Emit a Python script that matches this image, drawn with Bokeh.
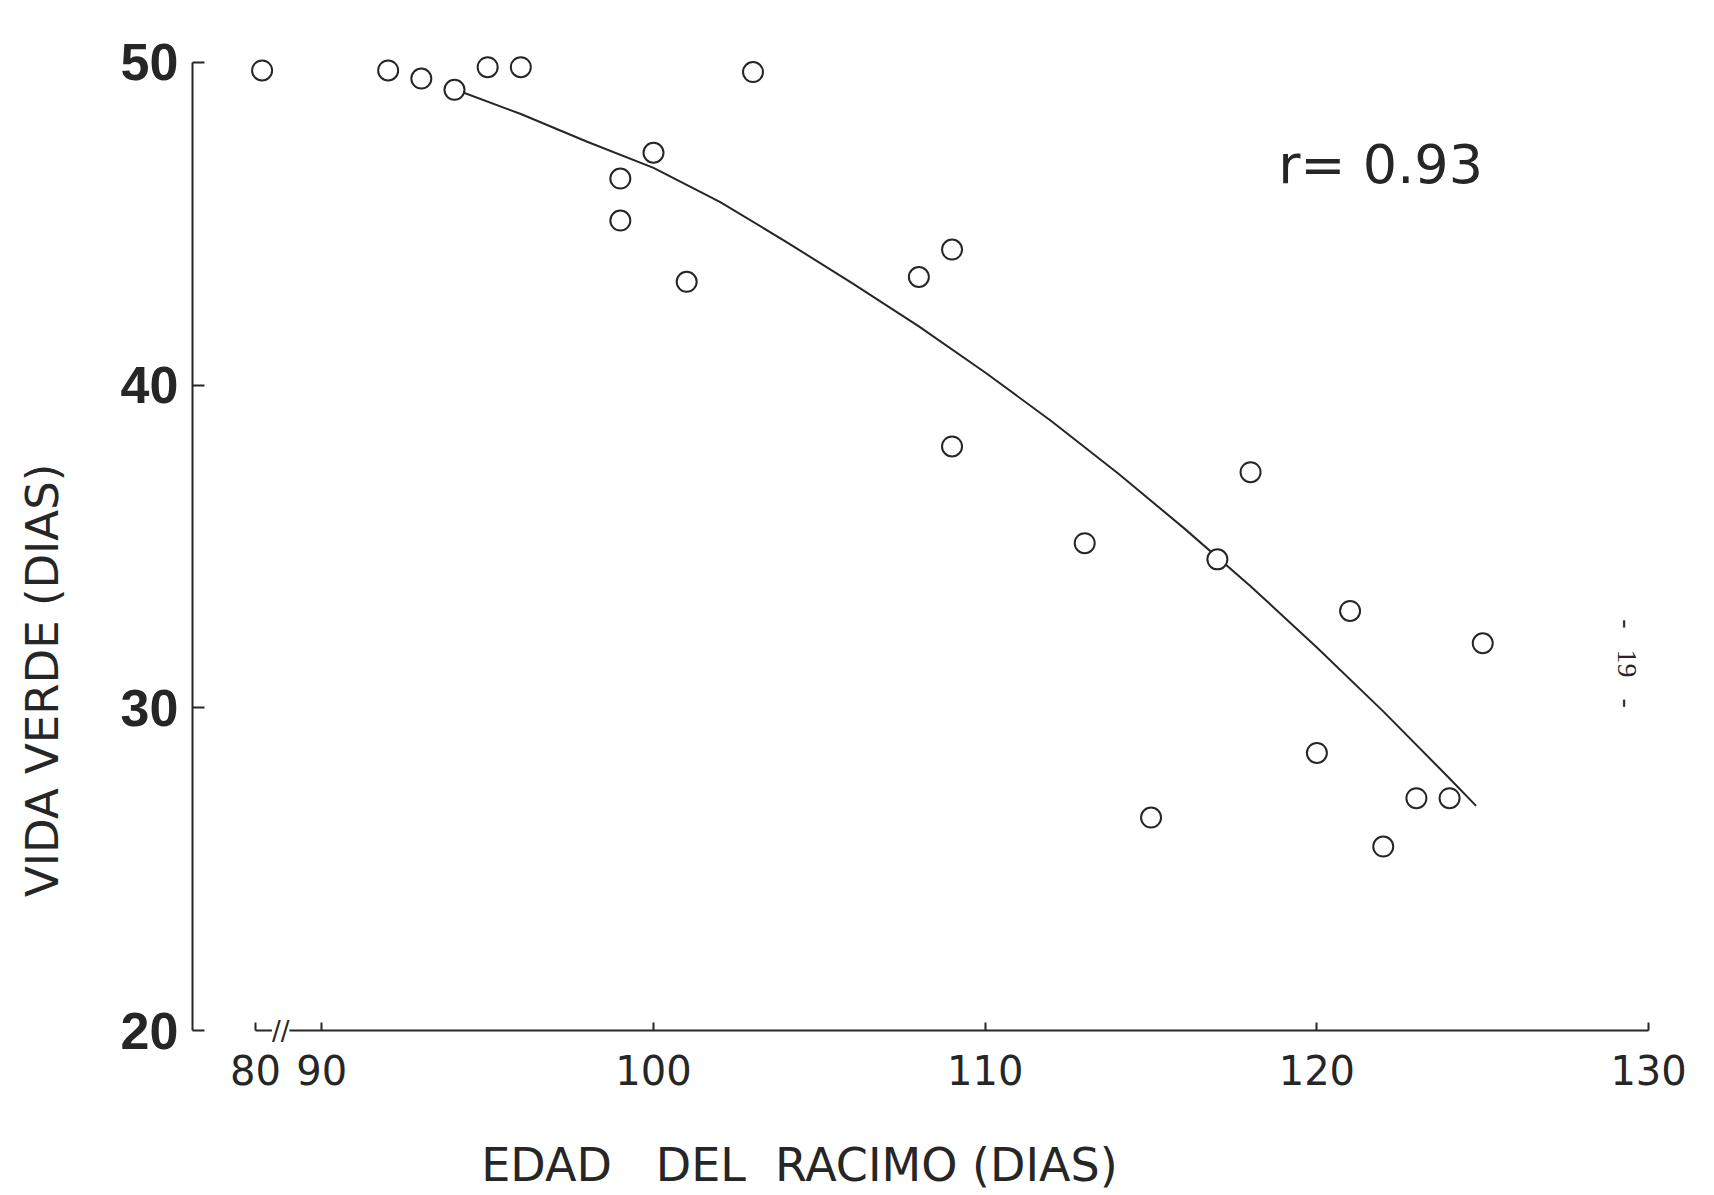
import math
from bokeh.plotting import figure
from bokeh.models import Range1d, FixedTicker, Label, ColumnDataSource
from bokeh.embed import file_html
from bokeh.resources import INLINE

# ---- data ----
edad = [81, 92, 93, 94, 95, 96, 103, 100, 99, 99, 101, 108, 109, 109,
        113, 117, 118, 121, 125, 115, 120, 123, 124, 122]
vida = [49.75, 49.75, 49.5, 49.15, 49.85, 49.85, 49.7, 47.2, 46.4, 45.1,
        43.2, 43.35, 44.2, 38.1, 35.1, 34.6, 37.3, 33.0, 32.0, 26.6,
        28.6, 27.2, 27.2, 25.7]

# fitted curve
curva_edad = [94.1, 96, 98, 100, 102, 104, 106, 108, 110, 112, 114, 116,
              118, 120, 122, 124, 124.8]
curva_vida = [49.13, 48.40, 47.54, 46.73, 45.68, 44.44, 43.15, 41.82, 40.39,
              38.88, 37.27, 35.56, 33.77, 31.87, 29.89, 27.81, 26.96]

x_ticks = [80, 90, 100, 110, 120, 130]
y_ticks = [20, 30, 40, 50]

NB = "\u00a0"
r_text = "r=" + NB + "0.93"
x_title = "EDAD" + NB * 3 + "DEL" + NB * 2 + "RACIMO" + NB + "(DIAS)"
y_title = "VIDA" + NB + "VERDE" + NB + "(DIAS)"
page_text = "-" + NB * 3 + "19" + NB * 3 + "-"

# broken axis: the 80-90 stretch is compressed
BREAK = 90
SQUEEZE = 0.2


def axis_pos(v):
    return v if v >= BREAK else BREAK - (BREAK - v) * SQUEEZE


ink = "#262626"
X_AXIS_AT = 20.0      # y value where the x axis sits
Y_AXIS_AT = 86.10     # x value where the y axis sits

p = figure(width=1714, height=1195, output_backend="svg", toolbar_location=None,
           x_range=Range1d(80.313, 131.987), y_range=Range1d(14.887, 51.918),
           min_border=0, min_border_left=0, min_border_right=0,
           min_border_top=0, min_border_bottom=0)
p.outline_line_color = None
p.grid.visible = False
p.background_fill_color = "white"
p.border_fill_color = "white"

# x axis
tick_pos = [int(round(axis_pos(t))) for t in x_ticks]
p.xaxis.fixed_location = X_AXIS_AT
p.xaxis.ticker = FixedTicker(ticks=tick_pos)
p.xaxis.major_label_overrides = {tp: str(t) for tp, t in zip(tick_pos, x_ticks)}
p.xaxis.bounds = (tick_pos[0], tick_pos[-1])
p.xaxis.major_tick_in = 8
p.xaxis.major_tick_out = 0
p.xaxis.minor_tick_line_color = None
p.xaxis.axis_line_width = 2
p.xaxis.axis_line_color = ink
p.xaxis.major_tick_line_color = ink
p.xaxis.major_tick_line_width = 2
p.xaxis.major_label_standoff = 24
p.xaxis.major_label_text_font = "DejaVu Sans"
p.xaxis.major_label_text_font_size = "40px"
p.xaxis.major_label_text_color = ink

# y axis
p.yaxis.fixed_location = Y_AXIS_AT
p.yaxis.ticker = FixedTicker(ticks=y_ticks)
p.yaxis.bounds = (y_ticks[0], y_ticks[-1])
p.yaxis.major_tick_in = 12
p.yaxis.major_tick_out = 0
p.yaxis.minor_tick_line_color = None
p.yaxis.axis_line_width = 2
p.yaxis.axis_line_color = ink
p.yaxis.major_tick_line_color = ink
p.yaxis.major_tick_line_width = 2
p.yaxis.major_label_standoff = 14
p.yaxis.major_label_text_font = "Liberation Sans"
p.yaxis.major_label_text_font_style = "bold"
p.yaxis.major_label_text_font_size = "52px"
p.yaxis.major_label_text_color = ink

# regression curve and points
p.line(curva_edad, curva_vida, line_color=ink, line_width=2)
src = ColumnDataSource(dict(x=[axis_pos(v) for v in edad], y=vida))
p.scatter("x", "y", source=src, marker="circle", size=20,
          fill_color="white", line_color=ink, line_width=2)

# axis break mark
p.add_layout(Label(x=88.76, y=X_AXIS_AT, text="//", text_align="center",
                   text_baseline="middle", text_font_size="26px",
                   text_font="DejaVu Sans", text_color=ink,
                   background_fill_color="white"))

# annotations
p.add_layout(Label(x=121.92, y=46.84, text=r_text, text_align="center",
                   text_baseline="middle", text_font="DejaVu Sans",
                   text_font_size="54px", text_color=ink))
p.add_layout(Label(x=104.40, y=15.82, text=x_title, text_align="center",
                   text_baseline="middle", text_font="DejaVu Sans",
                   text_font_size="46px", text_color=ink))
p.add_layout(Label(x=81.58, y=30.85, text=y_title, text_align="center",
                   text_baseline="middle", text_font="DejaVu Sans",
                   text_font_size="45px", text_color=ink, angle=math.pi / 2))
p.add_layout(Label(x=129.36, y=31.37, text=page_text, text_align="center",
                   text_baseline="middle", text_font="Liberation Serif",
                   text_font_size="28px", text_color=ink, angle=-math.pi / 2))

open("out.html", "w").write(file_html(p, INLINE))
